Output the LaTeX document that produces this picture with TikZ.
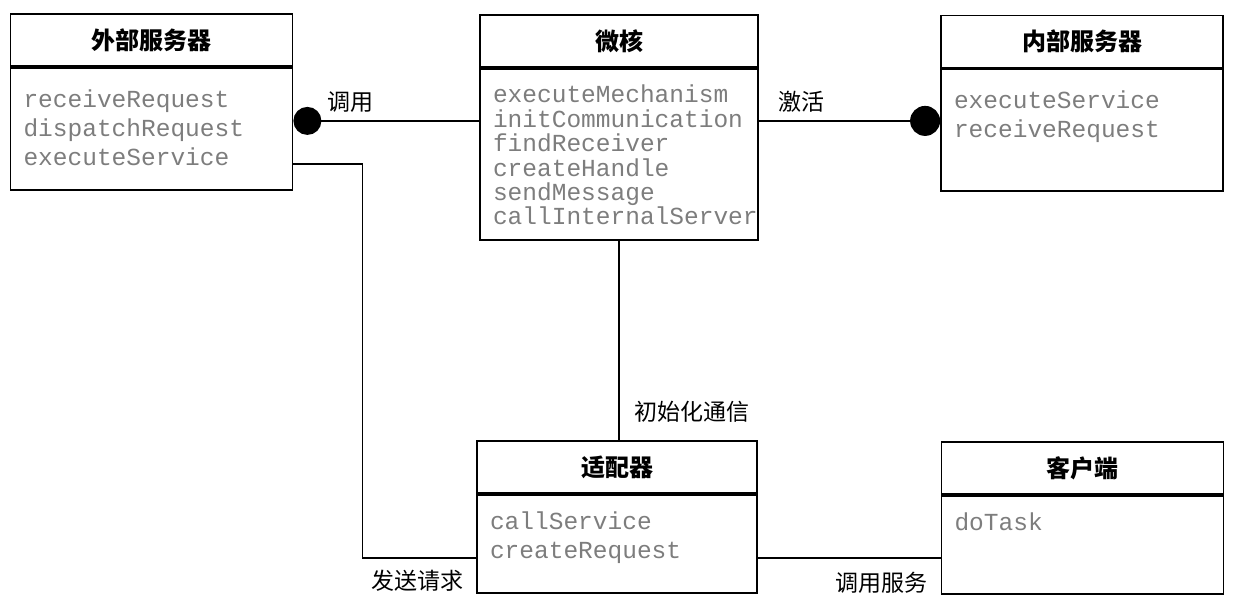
\documentclass[tikz,border=0pt]{standalone}
\usepackage{fontspec}
\setmonofont{Liberation Mono}
\newfontfamily\cjk{Noto Sans CJK SC}
\usetikzlibrary{positioning,arrows.meta}
\definecolor{methodgray}{RGB}{125,125,125}
\tikzset{
  classname/.style={draw, line width=1.8pt, minimum width=282pt, minimum height=52pt, inner sep=0pt,
    font=\cjk\bfseries\fontsize{24}{24}\selectfont},
  members/.style={draw, line width=1.8pt, anchor=north, text width=256pt, inner xsep=13pt, inner ysep=0pt,
    align=left, text=methodgray, font=\ttfamily\fontsize{24.5}{29}\selectfont},
  link/.style={line width=1.8pt},
  lbl/.style={inner sep=0pt, font=\cjk\fontsize{23}{23}\selectfont}
}
\begin{document}
\begin{tikzpicture}[x=1pt,y=-1pt]
\useasboundingbox (0,0) rectangle (1240,610);
%
\node[classname] (ext) at (151.5,40) {外部服务器};
\node[members, text height=40pt, text depth=82pt] (extb) at (ext.south) {receiveRequest\\dispatchRequest\\executeService};
\node[classname, minimum width=278pt] (kern) at (619,41) {微核};
\node[members, text width=252pt, text height=34pt, text depth=137pt, font=\ttfamily\fontsize{24.5}{24.4}\selectfont] (kernb) at (kern.south)
  {executeMechanism\\initCommunication\\findReceiver\\createHandle\\sendMessage\\callInternalServer};
\node[classname] (int) at (1082,41.5) {内部服务器};
\node[members, text height=39pt, text depth=83pt] (intb) at (int.south) {executeService\\receiveRequest};
\node[classname, minimum width=280pt] (adp) at (617,467) {适配器};
\node[members, text width=254pt, text height=35pt, text depth=63pt] (adpb) at (adp.south) {callService\\createRequest};
\node[classname] (cli) at (1082.5,468) {客户端};
\node[members, text height=35pt, text depth=63pt] (clib) at (cli.south) {doTask};
%
\coordinate (callpt) at ([yshift=-54pt]extb.north east);
\coordinate (actpt) at ([yshift=-53pt]kernb.north east);
\coordinate (sendpt) at ([yshift=-97pt]extb.north east);
\coordinate (servept) at ([yshift=-64pt]adpb.north east);
%
\draw[link, {Circle[length=28pt]}-] (callpt) -- node[lbl, pos=0.31, above=8pt] (calllbl) {调用} (callpt -| kernb.west);
\draw[link, -{Circle[length=30pt]}] (actpt) -- node[lbl, pos=0.235, above=8pt] (actlbl) {激活} (actpt -| intb.west);
\draw[link] (kernb.south) -- node[lbl, pos=0.857, right=15pt] (initlbl) {初始化通信} (kernb.south |- adp.north);
\draw[link] (sendpt) -- ++(69,0) |- ([yshift=-64pt]adpb.north west) node[lbl, below left=11pt and 12pt] (sendlbl) {发送请求};
\draw[link] (servept) -- (servept -| clib.west) node[lbl, below left=13pt and 12pt] (servelbl) {调用服务};
\end{tikzpicture}
\end{document}
